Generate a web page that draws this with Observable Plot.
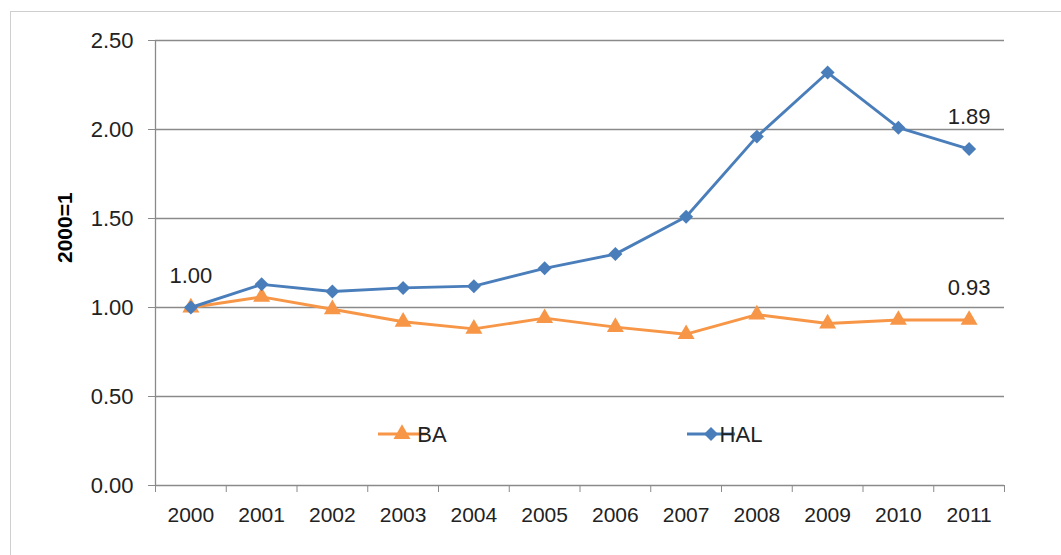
<!DOCTYPE html>
<html>
<head>
<meta charset="utf-8">
<script src="https://cdn.jsdelivr.net/npm/d3@7"></script>
<script src="https://cdn.jsdelivr.net/npm/@observablehq/plot@0.6"></script>
<style>
  html, body { margin: 0; padding: 0; background: #fff; }
  #wrap { position: relative; width: 1061px; height: 555px; overflow: hidden; }
  #frame { position: absolute; left: 10px; top: 11px; width: 1200px; height: 543px;
           border-left: 1px solid #cfcfcf; border-top: 1px solid #cfcfcf; }
  #chart { position: absolute; left: 0; top: 0; }
</style>
</head>
<body>
<div id="wrap"><div id="frame"></div><div id="chart"></div></div>
<script>
const years = [2000, 2001, 2002, 2003, 2004, 2005, 2006, 2007, 2008, 2009, 2010, 2011];
const baValues  = [1.00, 1.06, 0.99, 0.92, 0.88, 0.94, 0.89, 0.85, 0.96, 0.91, 0.93, 0.93];
const halValues = [1.00, 1.13, 1.09, 1.11, 1.12, 1.22, 1.30, 1.51, 1.96, 2.32, 2.01, 1.89];
const yTicks = [0, 0.5, 1.0, 1.5, 2.0, 2.5];
const seriesNames = ["BA", "HAL"];
const seriesColors = ["#f79646", "#4a7ebb"];
const seriesSymbols = ["triangle", "diamond2"];
const valueLabels = [
  {year: 2000, value: 1.00, text: "1.00"},
  {year: 2011, value: 1.89, text: "1.89"},
  {year: 2011, value: 0.93, text: "0.93"}
];
const yLabel = "2000=1";

const ba = years.map((y, i) => ({year: y, value: baValues[i]}));
const hal = years.map((y, i) => ({year: y, value: halValues[i]}));
const boundaries = d3.range(years.length + 1).map(i => years[0] - 0.5 + i);
const grey = "#8a8a8a";
const font = "'Liberation Sans', Arial, sans-serif";
const markerR = 6.3;

const plot = Plot.plot({
  width: 1061, height: 555,
  marginLeft: 155, marginRight: 57, marginTop: 40, marginBottom: 70,
  style: {fontFamily: font, fontSize: "22px", color: "#222", background: "transparent"},
  x: {domain: [boundaries[0], boundaries[boundaries.length - 1]]},
  y: {domain: [0, 2.5]},
  marks: [
    Plot.ruleY(yTicks, {stroke: grey, strokeWidth: 1.3}),
    Plot.ruleX([boundaries[0]], {y1: 0, y2: 2.5, stroke: grey, strokeWidth: 1.3}),
    Plot.axisY(yTicks, {tickSize: 7, tickPadding: 15, stroke: grey, tickFormat: d => d.toFixed(2), label: null, fontSize: 22}),
    Plot.axisX(boundaries, {tickSize: 7, stroke: grey, tickFormat: () => "", label: null}),
    Plot.axisX(years, {tickSize: 0, tickPadding: 22, tickFormat: d => String(d), label: null, fontSize: 21}),
    Plot.line(ba, {x: "year", y: "value", stroke: seriesColors[0], strokeWidth: 2.9}),
    Plot.dot(ba, {x: "year", y: "value", symbol: seriesSymbols[0], r: markerR, fill: seriesColors[0], stroke: "none"}),
    Plot.line(hal, {x: "year", y: "value", stroke: seriesColors[1], strokeWidth: 2.9}),
    Plot.dot(hal, {x: "year", y: "value", symbol: seriesSymbols[1], r: markerR, fill: seriesColors[1], stroke: "none"}),
    Plot.text(valueLabels, {x: "year", y: "value", text: "text", dy: -32, lineAnchor: "middle", fontSize: 22, fill: "#222"}),
    Plot.text([yLabel], {frameAnchor: "left", dx: -90, rotate: -90, fontWeight: "bold", fontSize: 21, fill: "#000"})
  ]
});
document.getElementById("chart").appendChild(plot);

// Legend (inside plot area)
const svg = d3.select(plot);
const legendItems = [
  {name: seriesNames[0], color: seriesColors[0], symbol: d3.symbolTriangle, x: 378},
  {name: seriesNames[1], color: seriesColors[1], symbol: d3.symbolDiamond2, x: 687}
];
const lg = svg.append("g").attr("transform", "translate(0,434)");
for (const it of legendItems) {
  const g = lg.append("g").attr("transform", `translate(${it.x},0)`);
  g.append("line").attr("x1", 0).attr("x2", 48).attr("y1", 0).attr("y2", 0)
    .attr("stroke", it.color).attr("stroke-width", 2.9);
  g.append("path").attr("d", d3.symbol(it.symbol, Math.PI * markerR * markerR)())
    .attr("transform", "translate(24,0)").attr("fill", it.color);
  g.append("text").attr("x", 54).attr("y", 0).attr("dy", "0.35em")
    .attr("font-family", font).attr("font-size", 22).attr("fill", "#222").text(it.name);
}
</script>
</body>
</html>
